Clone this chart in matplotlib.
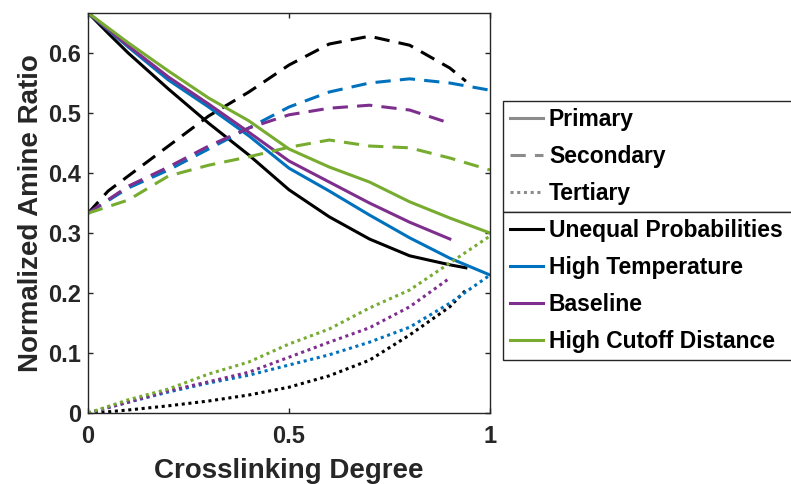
import numpy as np
import matplotlib
matplotlib.use('Agg')
import matplotlib.pyplot as plt
from matplotlib.lines import Line2D
from matplotlib.ticker import FormatStrFormatter

# amine fractions vs crosslinking degree for four simulation settings
x_unequal = [0, 0.05, 0.1, 0.2, 0.3, 0.4, 0.5, 0.6, 0.7, 0.8, 0.9, 0.94]
prim_unequal = [0.667, 0.633, 0.600, 0.540, 0.483, 0.430, 0.372, 0.327, 0.290, 0.262, 0.247, 0.242]
sec_unequal = [0.333, 0.370, 0.395, 0.445, 0.495, 0.535, 0.580, 0.615, 0.628, 0.613, 0.575, 0.553]
tert_unequal = [0, 0.002, 0.005, 0.012, 0.020, 0.030, 0.043, 0.062, 0.088, 0.130, 0.177, 0.205]

x_hightemp = [0, 0.1, 0.2, 0.3, 0.4, 0.5, 0.6, 0.7, 0.8, 0.9, 1.0]
prim_hightemp = [0.667, 0.610, 0.555, 0.510, 0.462, 0.408, 0.370, 0.330, 0.292, 0.258, 0.230]
sec_hightemp = [0.333, 0.375, 0.405, 0.440, 0.475, 0.510, 0.535, 0.550, 0.557, 0.550, 0.538]
tert_hightemp = [0, 0.018, 0.035, 0.050, 0.063, 0.080, 0.097, 0.118, 0.143, 0.183, 0.230]

x_base = [0, 0.1, 0.2, 0.3, 0.4, 0.5, 0.6, 0.7, 0.8, 0.9]
prim_base = [0.667, 0.612, 0.560, 0.515, 0.468, 0.420, 0.385, 0.350, 0.318, 0.290]
sec_base = [0.333, 0.378, 0.410, 0.445, 0.475, 0.497, 0.508, 0.513, 0.505, 0.483]
tert_base = [0, 0.018, 0.037, 0.052, 0.068, 0.093, 0.118, 0.142, 0.177, 0.225]

x_cutoff = [0, 0.1, 0.2, 0.3, 0.4, 0.5, 0.6, 0.7, 0.8, 0.9, 1.0]
prim_cutoff = [0.667, 0.617, 0.570, 0.525, 0.487, 0.440, 0.410, 0.385, 0.352, 0.325, 0.300]
sec_cutoff = [0.333, 0.355, 0.395, 0.413, 0.427, 0.443, 0.455, 0.445, 0.442, 0.425, 0.405]
tert_cutoff = [0, 0.022, 0.040, 0.065, 0.085, 0.115, 0.140, 0.175, 0.205, 0.250, 0.295]

names = ['Unequal Probabilities', 'High Temperature', 'Baseline', 'High Cutoff Distance']
colors = ['black', '#0072BD', '#7E2F8E', '#77AC30']
type_names = ['Primary', 'Secondary', 'Tertiary']

dash = (0, (5, 3))
dot = (0, (1, 1.2))
lw = 2.2
txt = '#262626'

plt.rcParams['font.family'] = ['Liberation Sans', 'DejaVu Sans']
plt.rcParams['font.weight'] = 'bold'

fig = plt.figure(figsize=(7.91, 4.84), dpi=100)
ax = fig.add_axes([0.1113, 0.1467, 0.5082, 0.8264])

sets = [(x_unequal, prim_unequal, sec_unequal, tert_unequal),
        (x_hightemp, prim_hightemp, sec_hightemp, tert_hightemp),
        (x_base, prim_base, sec_base, tert_base),
        (x_cutoff, prim_cutoff, sec_cutoff, tert_cutoff)]

for (xs, p, s, t), c in zip(sets, colors):
    ax.plot(xs, p, color=c, lw=lw)
    ax.plot(xs, s, color=c, lw=lw, linestyle=dash)
    ax.plot(xs, t, color=c, lw=lw, linestyle=dot)

ax.set_xlim(0, 1)
ax.set_ylim(0, 2 / 3)
ax.set_xticks([0, 0.5, 1])
ax.set_yticks(np.arange(0, 0.61, 0.1))
ax.xaxis.set_major_formatter(FormatStrFormatter('%g'))
ax.yaxis.set_major_formatter(FormatStrFormatter('%g'))
ax.tick_params(direction='in', length=3.6, width=1, top=True, right=True,
               labelsize=17, colors=txt)
ax.tick_params(axis='x', pad=9)
ax.tick_params(axis='y', pad=5)
for sp in ax.spines.values():
    sp.set_color(txt)
    sp.set_linewidth(1)

ax.set_xlabel('Crosslinking Degree', fontsize=20, fontweight='bold', color=txt)
ax.set_ylabel('Normalized Amine Ratio', fontsize=20, fontweight='bold', color=txt)
ax.xaxis.set_label_coords(0.5, -0.112)
ax.yaxis.set_label_coords(-0.11, 0.5)

# two stacked legends: line style key and simulation key
style_handles = [Line2D([], [], color='#8c8c8c', lw=lw, linestyle=ls)
                 for ls in ['-', dash, dot]]
color_handles = [Line2D([], [], color=c, lw=lw) for c in colors]
prop = {'family': 'Liberation Sans', 'weight': 'bold', 'size': 16.5}
common = dict(prop=prop, mode='expand', handlelength=1.45, handletextpad=0.25,
              borderpad=0.3, labelspacing=0.62, borderaxespad=0, fancybox=False,
              framealpha=1, edgecolor='#262626', bbox_transform=fig.transFigure)

leg1 = fig.legend(style_handles, type_names, loc='lower left',
                  bbox_to_anchor=(0.636, 0.562, 0.40, 0), **common)
leg2 = fig.legend(color_handles, names, loc='upper left',
                  bbox_to_anchor=(0.636, 0.562, 0.40, 0), **common)
for leg in (leg1, leg2):
    leg.get_frame().set_linewidth(1)

fig.savefig('out.png', dpi=100)
